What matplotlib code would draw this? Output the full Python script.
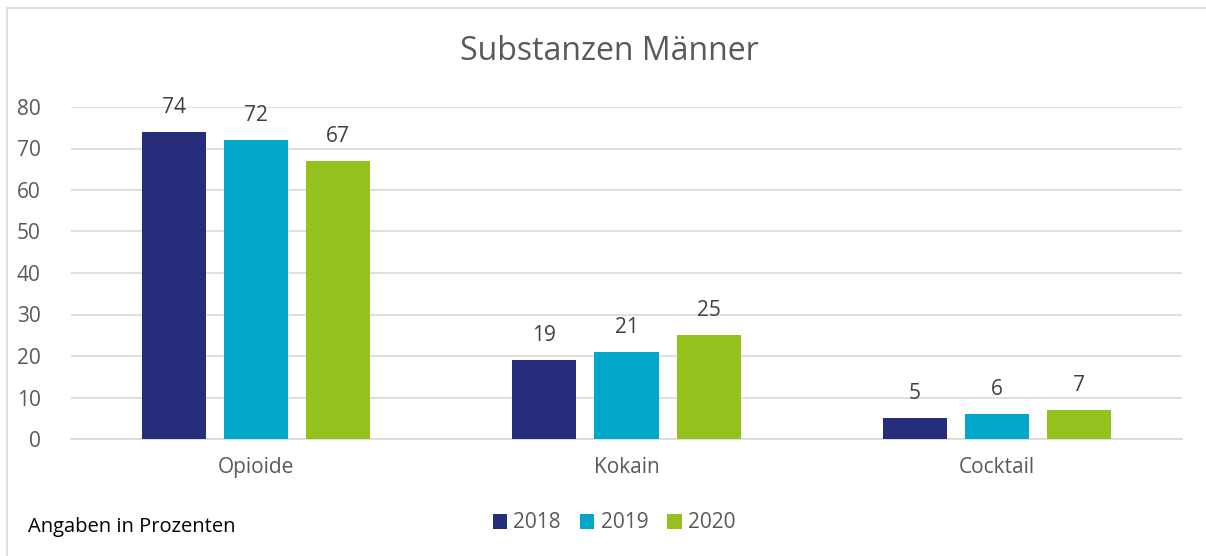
import matplotlib
matplotlib.use("Agg")
import matplotlib.pyplot as plt
import numpy as np
from matplotlib.patches import Patch
from matplotlib.lines import Line2D

categories = ["Opioide", "Kokain", "Cocktail"]
years = ["2018", "2019", "2020"]
v2018 = [74, 19, 5]
v2019 = [72, 21, 6]
v2020 = [67, 25, 7]
colors = ["#262D7B", "#00A7C9", "#95C11F"]
yticks = [0, 10, 20, 30, 40, 50, 60, 70, 80]

plt.rcParams['font.family'] = ['Open Sans', 'DejaVu Sans']
txt = "#595959"

W, H = 1206, 556
fig = plt.figure(figsize=(W/100, H/100), dpi=100)
ax = fig.add_axes([71/W, 1-439/H, (1182-71)/W, (439-107)/H])

x = np.arange(len(categories))
bw = 0.173
step = 0.2216
for i, (vals, c) in enumerate(zip([v2018, v2019, v2020], colors)):
    bars = ax.bar(x + (i-1)*step, vals, bw, color=c, label=years[i], zorder=3)
    for b, v in zip(bars, vals):
        ax.text(b.get_x()+b.get_width()/2, v + 3.4, str(v), ha="center", va="bottom",
                fontsize=15, color="#404040")

ax.set_xlim(-0.5, 2.5)
ax.set_ylim(0, 80)
ax.set_yticks(yticks)
ax.set_yticklabels([str(t) for t in yticks], fontsize=15, color=txt)
ax.set_xticks(x)
ax.set_xticklabels(categories, fontsize=15, color=txt)
ax.tick_params(axis="both", length=0)
ax.tick_params(axis="y", pad=22)
ax.tick_params(axis="x", pad=13)
ax.grid(axis="y", color="#D9D9D9", linewidth=1.2, zorder=0)
for s in ["top", "right", "left"]:
    ax.spines[s].set_visible(False)
ax.spines["bottom"].set_color("#D9D9D9")
ax.spines["bottom"].set_linewidth(1.2)

fig.text(609/W, 1-52/H, "Substanzen Männer", ha="center", va="center", fontsize=23, color=txt)
fig.text(28/W, 1-527/H, "Angaben in Prozenten", ha="left", va="center", fontsize=14.5, color="black")

handles = [Patch(facecolor=c, label=y) for c, y in zip(colors, years)]
fig.legend(handles=handles, loc="center", bbox_to_anchor=(614/W, 1-523/H), ncol=3, frameon=False,
           fontsize=15, labelcolor=txt, handlelength=0.7, handleheight=0.7, handletextpad=0.3,
           columnspacing=0.9)

# border
fig.add_artist(Line2D([7/W, 7/W], [0, 1-8/H], color="#D9D9D9", linewidth=1.2, transform=fig.transFigure))
fig.add_artist(Line2D([7/W, 1], [1-8/H, 1-8/H], color="#D9D9D9", linewidth=1.2, transform=fig.transFigure))

fig.savefig("out.png", dpi=100)
